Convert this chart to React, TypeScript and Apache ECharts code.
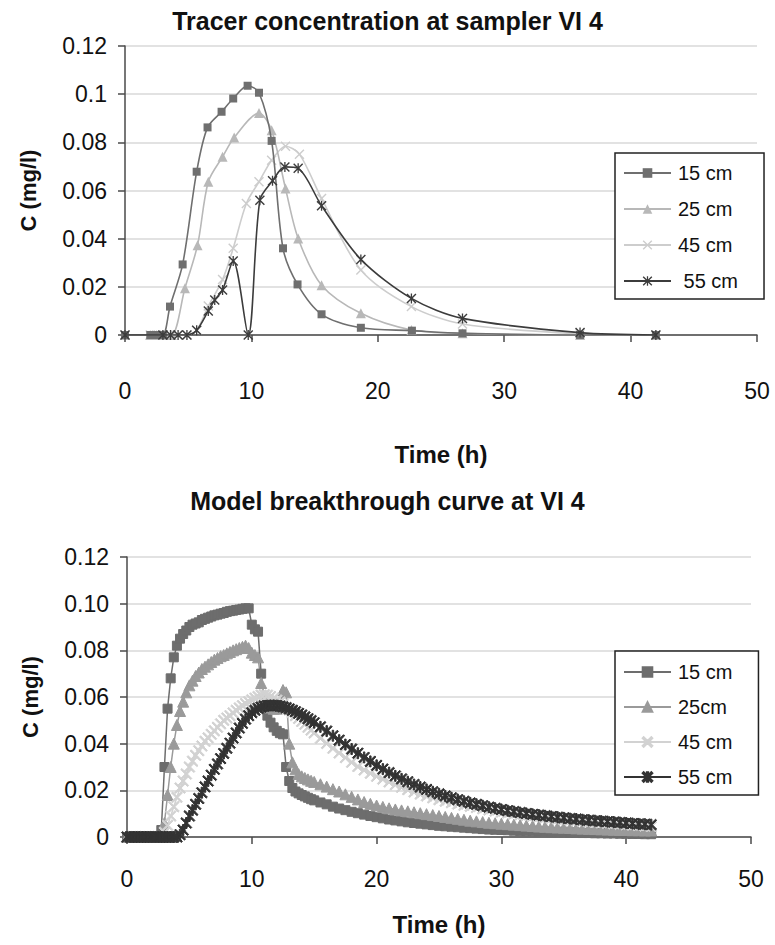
import React, { useEffect, useRef } from "react";
import * as echarts from "echarts";

// ---------- Chart 1: measured tracer concentration (mg/l) ----------
const T15 = [0, 2.0, 2.5, 3.0, 3.56, 4.56, 5.67, 6.53, 7.64, 8.56, 9.7, 10.6, 11.6, 12.5, 13.65, 15.55, 18.66, 22.7, 26.7, 36, 42];
const C15 = [0, 0, 0, 0, 0.0118, 0.0293, 0.0678, 0.0862, 0.0927, 0.0982, 0.1035, 0.1006, 0.0806, 0.036, 0.021, 0.0086, 0.003, 0.0018, 0.0007, 0, 0];

const T25 = [0, 2.0, 2.5, 3.0, 3.7, 4.74, 5.74, 6.59, 7.72, 8.64, 10.6, 11.6, 12.7, 13.7, 15.55, 18.66, 22.66, 26.7, 36, 42];
const C25 = [0, 0, 0, 0, 0, 0.0194, 0.0373, 0.0636, 0.074, 0.082, 0.0922, 0.085, 0.0608, 0.0401, 0.0207, 0.009, 0.0021, 0.0007, 0, 0];

const T45 = [0, 2.0, 2.5, 3.0, 3.5, 4.2, 4.9, 5.67, 6.59, 7.72, 8.56, 9.6, 10.6, 11.6, 12.7, 13.8, 15.55, 18.66, 22.66, 26.7, 36, 42];
const C45 = [0, 0, 0, 0, 0, 0, 0, 0.002, 0.012, 0.023, 0.036, 0.0546, 0.0636, 0.0726, 0.0784, 0.0751, 0.0567, 0.027, 0.0118, 0.0046, 0.0005, 0];

const T55 = [0, 3.0, 3.6, 4.2, 4.9, 5.67, 6.59, 7.1, 7.72, 8.56, 9.75, 10.67, 11.67, 12.65, 13.7, 15.55, 18.66, 22.66, 26.7, 36, 42];
const C55 = [0, 0, 0, 0, 0, 0.002, 0.01, 0.0145, 0.0187, 0.0307, 0, 0.056, 0.064, 0.0698, 0.0692, 0.0537, 0.0314, 0.0152, 0.0069, 0.001, 0];

// ---------- Chart 2: model breakthrough curve (mg/l) ----------
const MODEL_T = [
  0, 0.25, 0.5, 0.75, 1, 1.25, 1.5, 1.75, 2, 2.25, 2.5, 2.75, 3, 3.25, 3.5, 3.75, 4, 4.25, 4.5, 4.75,
  5, 5.25, 5.5, 5.75, 6, 6.25, 6.5, 6.75, 7, 7.25, 7.5, 7.75, 8, 8.25, 8.5, 8.75, 9, 9.25, 9.5, 9.75,
  10, 10.25, 10.5, 10.75, 11, 11.25, 11.5, 11.75, 12, 12.25, 12.5, 12.75, 13, 13.25, 13.5, 13.75, 14, 14.25, 14.5, 14.75, 15,
  15.5, 16, 16.5, 17, 17.5, 18, 18.5, 19, 19.5, 20, 20.5, 21, 21.5, 22, 22.5, 23, 23.5, 24, 24.5, 25,
  25.5, 26, 26.5, 27, 27.5, 28, 28.5, 29, 29.5, 30, 30.5, 31, 31.5, 32, 32.5, 33, 33.5, 34, 34.5, 35,
  35.5, 36, 36.5, 37, 37.5, 38, 38.5, 39, 39.5, 40, 40.5, 41, 41.5, 42,
];
const M15 = [
  0, 0, 0, 0, 0, 0, 0, 0, 0, 0, 0,
  0.003, 0.03, 0.055, 0.068, 0.077, 0.082, 0.085, 0.087, 0.0885, 0.09,
  0.091, 0.0915, 0.092, 0.093, 0.0935, 0.094, 0.0945, 0.095, 0.0953, 0.0957,
  0.096, 0.0965, 0.0968, 0.097, 0.0973, 0.0975, 0.0978, 0.098, 0.098, 0.091,
  0.089, 0.088, 0.07, 0.058, 0.052, 0.049, 0.047, 0.0455, 0.0445, 0.044,
  0.03, 0.024, 0.021, 0.0195, 0.0187, 0.018, 0.0174, 0.0168, 0.0162, 0.0157,
  0.0148, 0.014, 0.013, 0.0122, 0.0115, 0.0108, 0.0102, 0.0096, 0.009, 0.0085,
  0.008, 0.0075, 0.0071, 0.0067, 0.0063, 0.006, 0.0057, 0.0054, 0.0051, 0.0048,
  0.0046, 0.0044, 0.0042, 0.004, 0.0038, 0.0036, 0.0034, 0.0032, 0.0031, 0.003,
  0.0029, 0.0027, 0.0026, 0.0025, 0.0024, 0.0023, 0.0022, 0.0021, 0.002, 0.002,
  0.0019, 0.0018, 0.0017, 0.0017, 0.0016, 0.0016, 0.0015, 0.0015, 0.0014, 0.0014,
  0.0013, 0.0013, 0.0012, 0.0012,
];
const M25 = [
  0, 0, 0, 0, 0, 0, 0, 0, 0, 0, 0, 0,
  0.006, 0.018, 0.03, 0.04, 0.048, 0.054, 0.058, 0.062, 0.065,
  0.067, 0.069, 0.0705, 0.072, 0.073, 0.074, 0.075, 0.076, 0.0767, 0.0775,
  0.078, 0.0787, 0.0793, 0.08, 0.0805, 0.081, 0.0815, 0.082, 0.081, 0.079,
  0.078, 0.077, 0.066, 0.06, 0.057, 0.0555, 0.055, 0.055, 0.056, 0.063,
  0.062, 0.04, 0.032, 0.029, 0.027, 0.026, 0.0253, 0.0247, 0.0241, 0.0236,
  0.0226, 0.0216, 0.0205, 0.0195, 0.0183, 0.0172, 0.0161, 0.015, 0.0142, 0.0135,
  0.0129, 0.0123, 0.0118, 0.0114, 0.011, 0.0106, 0.0102, 0.0098, 0.0094, 0.009,
  0.0086, 0.0082, 0.0078, 0.0074, 0.007, 0.0067, 0.0064, 0.0061, 0.0059, 0.0057,
  0.0055, 0.0053, 0.0051, 0.0049, 0.0047, 0.0045, 0.0044, 0.0042, 0.0041, 0.004,
  0.0039, 0.0037, 0.0036, 0.0035, 0.0034, 0.0033, 0.0032, 0.0031, 0.003, 0.003,
  0.0029, 0.0029, 0.0028, 0.0028,
];
const M45 = [
  0, 0, 0, 0, 0, 0, 0, 0, 0, 0, 0, 0,
  0.002, 0.005, 0.009, 0.013, 0.017, 0.021, 0.024, 0.027, 0.03,
  0.0325, 0.035, 0.037, 0.039, 0.041, 0.0425, 0.044, 0.0455, 0.047, 0.0485,
  0.05, 0.051, 0.052, 0.0532, 0.0543, 0.0553, 0.0563, 0.0572, 0.058, 0.0588,
  0.0595, 0.0602, 0.0608, 0.061, 0.0608, 0.0602, 0.0595, 0.0587, 0.0578, 0.0568,
  0.0557, 0.0545, 0.0533, 0.052, 0.0508, 0.0495, 0.0483, 0.047, 0.0458, 0.0446,
  0.0423, 0.0401, 0.038, 0.036, 0.034, 0.032, 0.0302, 0.0287, 0.0273, 0.026,
  0.0248, 0.0236, 0.0224, 0.0213, 0.0203, 0.0193, 0.0184, 0.0176, 0.0168, 0.016,
  0.0153, 0.0147, 0.0141, 0.0136, 0.0131, 0.0126, 0.0121, 0.0116, 0.0111, 0.0107,
  0.0103, 0.0099, 0.0095, 0.0092, 0.0089, 0.0086, 0.0083, 0.008, 0.0077, 0.0074,
  0.0072, 0.007, 0.0067, 0.0065, 0.0063, 0.0061, 0.0059, 0.0057, 0.0055, 0.0053,
  0.0051, 0.0049, 0.0047, 0.0045,
];
const M55 = [
  0, 0, 0, 0, 0, 0, 0, 0, 0, 0, 0, 0, 0, 0, 0, 0, 0,
  0.001, 0.003, 0.006, 0.009,
  0.0115, 0.014, 0.0165, 0.019, 0.0215, 0.024, 0.0265, 0.029, 0.0313, 0.0336,
  0.0358, 0.038, 0.0402, 0.0424, 0.0446, 0.0467, 0.0487, 0.0505, 0.052, 0.0533,
  0.0543, 0.0551, 0.0557, 0.0561, 0.0563, 0.0564, 0.0564, 0.0563, 0.0561, 0.0558,
  0.0554, 0.0549, 0.0543, 0.0537, 0.053, 0.0523, 0.0515, 0.0507, 0.0499, 0.049,
  0.0472, 0.0454, 0.0434, 0.0415, 0.0396, 0.0377, 0.0359, 0.0341, 0.0324, 0.0307,
  0.0291, 0.0276, 0.0262, 0.0249, 0.0237, 0.0225, 0.0214, 0.0204, 0.0194, 0.0185,
  0.0176, 0.0168, 0.016, 0.0153, 0.0146, 0.014, 0.0134, 0.0128, 0.0123, 0.0118,
  0.0113, 0.0109, 0.0105, 0.0101, 0.0097, 0.0094, 0.0091, 0.0088, 0.0085, 0.0082,
  0.0079, 0.0077, 0.0074, 0.0072, 0.007, 0.0068, 0.0066, 0.0064, 0.0062, 0.006,
  0.0058, 0.0056, 0.0055, 0.0053,
];

const TITLE_1 = "Tracer concentration at sampler VI 4";
const TITLE_2 = "Model breakthrough curve at VI 4";
const NAMES_1 = ["15 cm", "25 cm", "45 cm", " 55 cm"];
const NAMES_2 = ["15 cm", "25cm", "45 cm", "55 cm"];
const X_NAME = "Time (h)";
const Y_NAME = "C (mg/l)";

const FONT = "'Liberation Sans', Arial, Helvetica, sans-serif";
const X_SYMBOL = "path://M1,0L5,4L9,0L10,1L6,5L10,9L9,10L5,6L1,10L0,9L4,5L0,1Z";
const STAR_SYMBOL =
  "path://M1,0L5,4L9,0L10,1L6,5L10,9L9,10L5,6L1,10L0,9L4,5L0,1Z M4.35,0L5.65,0L5.65,10L4.35,10Z";

const zip = (xs: number[], ys: number[]) => xs.map((x, i) => [x, ys[i]]);

function axes(opts: {
  labelMargin: number;
  nameGap: number;
  yFmt: (v: number) => string;
}) {
  const axisLine = { show: true, lineStyle: { color: "#4a4a4a", width: 1.5 } };
  const axisTick = { show: true, inside: false, length: 7, lineStyle: { color: "#4a4a4a", width: 1.5 } };
  return {
    xAxis: {
      type: "value",
      min: 0,
      max: 50,
      interval: 10,
      axisLine,
      axisTick,
      splitLine: { show: false },
      axisLabel: { fontSize: 23, color: "#111", fontFamily: FONT, margin: opts.labelMargin },
      name: X_NAME,
      nameLocation: "middle",
      nameGap: opts.nameGap,
      nameTextStyle: { fontSize: 24, fontWeight: "bold", color: "#111", fontFamily: FONT },
    },
    yAxis: {
      type: "value",
      min: 0,
      max: 0.12,
      interval: 0.02,
      axisLine,
      axisTick,
      splitLine: { show: true, lineStyle: { color: "#d9d9d9", width: 1.5 } },
      axisLabel: { fontSize: 23, color: "#111", fontFamily: FONT, margin: 18, formatter: opts.yFmt },
      name: Y_NAME,
      nameLocation: "middle",
      nameRotate: 90,
      nameGap: 86,
      nameTextStyle: { fontSize: 22, fontWeight: "bold", color: "#111", fontFamily: FONT },
    },
  };
}

function legendCfg(names: string[], top: number, padding: number[], gap: number) {
  return {
    data: names,
    orient: "vertical",
    left: 615,
    top,
    padding,
    itemGap: gap,
    itemWidth: 47,
    itemHeight: 12,
    borderColor: "#222",
    borderWidth: 1.5,
    backgroundColor: "#fff",
    textStyle: { fontSize: 20, color: "#111", fontFamily: FONT, padding: [0, 0, 0, 2] },
  };
}

function option1() {
  const ax = axes({
    labelMargin: 44,
    nameGap: 107,
    yFmt: (v: number) => String(parseFloat(v.toFixed(2))),
  });
  const mk = (name: string, xs: number[], ys: number[], color: string, symbol: string, size: number, z: number) => ({
    name,
    type: "line",
    data: zip(xs, ys),
    smooth: 0.3,
    symbol,
    symbolSize: size,
    z,
    lineStyle: { color, width: 1.6 },
    itemStyle: { color },
  });
  return {
    animation: false,
    backgroundColor: "#fff",
    title: {
      text: TITLE_1,
      left: "center",
      top: 3,
      textStyle: { fontSize: 25, fontWeight: "bold", color: "#111", fontFamily: FONT },
    },
    grid: { left: 125, right: 18, top: 46, bottom: 137, containLabel: false },
    ...ax,
    legend: legendCfg(NAMES_1, 153, [10, 26, 8, 8], 16),
    series: [
      mk(NAMES_1[0], T15, C15, "#6f6f6f", "rect", 8, 3),
      mk(NAMES_1[1], T25, C25, "#b8b8b8", "triangle", 10, 2),
      mk(NAMES_1[2], T45, C45, "#cdcdcd", X_SYMBOL, 10, 1),
      mk(NAMES_1[3], T55, C55, "#3c3c3c", STAR_SYMBOL, 10, 4),
    ],
  };
}

function option2() {
  const ax = axes({
    labelMargin: 30,
    nameGap: 75,
    yFmt: (v: number) => (v === 0 ? "0" : v.toFixed(2)),
  });
  const mk = (name: string, ys: number[], color: string, symbol: string, size: number) => ({
    name,
    type: "line",
    data: zip(MODEL_T, ys),
    symbol,
    symbolSize: size,
    lineStyle: { color, width: 1.5 },
    itemStyle: { color, borderColor: color, borderWidth: 1 },
  });
  return {
    animation: false,
    backgroundColor: "#fff",
    title: {
      text: TITLE_2,
      left: "center",
      top: 11,
      textStyle: { fontSize: 25, fontWeight: "bold", color: "#111", fontFamily: FONT },
    },
    grid: { left: 127, right: 24, top: 85, bottom: 108, containLabel: false },
    ...ax,
    legend: legendCfg(NAMES_2, 179, [11, 26, 8, 8], 15),
    series: [
      mk(NAMES_2[0], M15, "#6d6d6d", "rect", 9),
      mk(NAMES_2[1], M25, "#9a9a9a", "triangle", 11),
      mk(NAMES_2[2], M45, "#d2d2d2", X_SYMBOL, 11),
      mk(NAMES_2[3], M55, "#333333", STAR_SYMBOL, 11),
    ],
  };
}

function ChartBox({ option, top, height }: { option: any; top: number; height: number }) {
  const ref = useRef<HTMLDivElement>(null);
  useEffect(() => {
    if (!ref.current) return;
    const chart = echarts.init(ref.current, undefined, { renderer: "svg" });
    chart.setOption(option);
    return () => chart.dispose();
  }, [option]);
  return <div ref={ref} style={{ position: "absolute", left: 0, top, width: 775, height }} />;
}

const OPT1 = option1();
const OPT2 = option2();

export default function App() {
  return (
    <div style={{ position: "absolute", left: 0, top: 0, width: 775, height: 945, background: "#fff", overflow: "hidden" }}>
      <ChartBox option={OPT1} top={0} height={472} />
      <ChartBox option={OPT2} top={472} height={473} />
    </div>
  );
}
